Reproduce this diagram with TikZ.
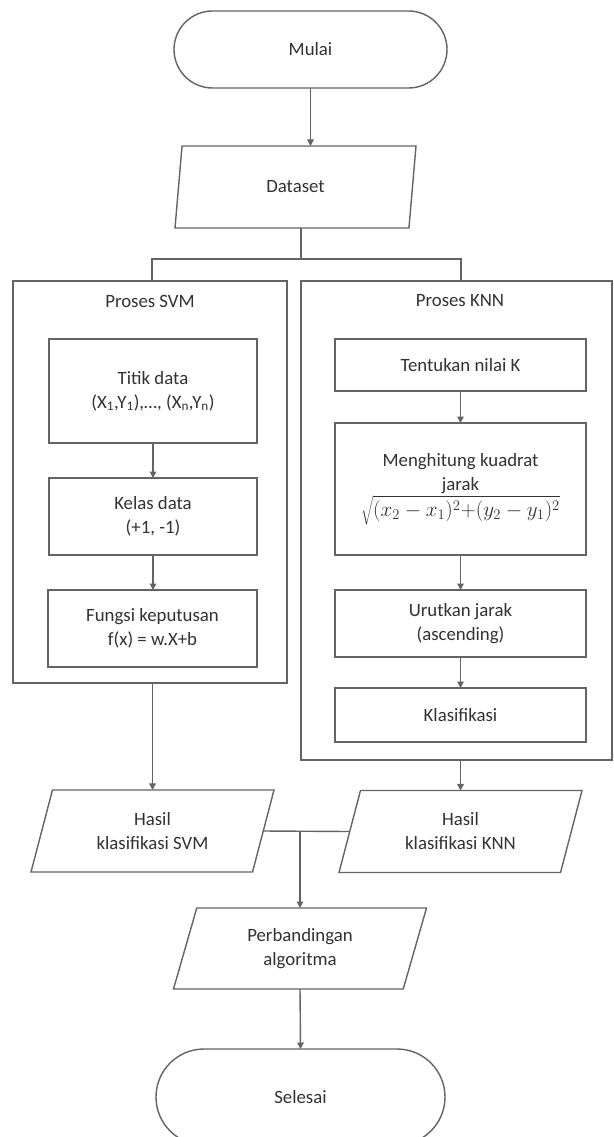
\documentclass[tikz,border=0pt]{standalone}
\usepackage{fontspec}
\setmainfont{Carlito}
\usetikzlibrary{shapes.geometric,shapes.misc,arrows.meta}
\definecolor{linec}{RGB}{100,100,100}
\definecolor{textc}{RGB}{50,50,50}
\begin{document}
\begin{tikzpicture}[x=1pt,y=-1pt,
  every node/.style={font=\fontsize{18.8}{24}\selectfont, text=textc, outer sep=0pt, inner sep=0pt},
  conn/.style={draw=linec, line width=1.4pt},
  arrowc/.style={conn, -{Triangle[width=6.5pt,length=6.5pt]}},
  termbox/.style={rounded rectangle, draw=linec, line width=1.4pt},
  iobox/.style={trapezium, trapezium left angle=60, trapezium right angle=120,
    trapezium stretches body, draw=linec, line width=1.4pt, minimum height=82, align=center},
  procbox/.style={rectangle, draw=linec, line width=1.4pt, align=center},
  groupbox/.style={rectangle, draw=linec, line width=1.4pt}
]
\useasboundingbox (0,0) rectangle (613,1137);
\fill[white] (0,0) rectangle (613,1137);

% terminators and inputs
\node[termbox, minimum width=273, minimum height=77] (mulai) at (310.5,49.5) {Mulai};
\node[iobox, minimum width=241] (dataset) at (295.5,187) {Dataset};

% group boxes
\node[groupbox, minimum width=274, minimum height=402] (svm) at (150,482) {};
\node[groupbox, minimum width=311, minimum height=479] (knn) at (456.5,520.5) {};
\node (svmlbl) at (150,301) {Proses SVM};
\node (knnlbl) at (460,301) {Proses KNN};

% SVM steps
\node[procbox, minimum width=208, minimum height=104] (titik) at (153,391)
  {Titik data\\(X\textsubscript{1},Y\textsubscript{1}),…, (X\textsubscript{n},Y\textsubscript{n})};
\node[procbox, minimum width=208, minimum height=77] (kelas) at (153,516.5) {Kelas data\\(+1, -1)};
\node[procbox, minimum width=209, minimum height=77] (fungsi) at (152.5,628.5) {Fungsi keputusan\\f(x) = w.X+b};

% KNN steps
\node[procbox, minimum width=251, minimum height=52] (tentukan) at (460.5,365) {Tentukan nilai K};
\node[procbox, minimum width=251, minimum height=132] (hitung) at (460.5,489)
  {Menghitung kuadrat\\jarak\\[1pt]\resizebox{199pt}{!}{$\sqrt{(x_2-x_1)^2{+}(y_2-y_1)^2}$}};
\node[procbox, minimum width=251, minimum height=67] (urut) at (460.5,623.5) {Urutkan jarak\\(ascending)};
\node[procbox, minimum width=251, minimum height=54] (klas) at (460.5,715) {Klasifikasi};

% results
\node[iobox, minimum width=243] (hsvm) at (152.5,831) {Hasil\\klasifikasi SVM};
\node[iobox, minimum width=243] (hknn) at (460.5,831.5) {Hasil\\klasifikasi KNN};
\node[iobox, minimum width=253, minimum height=81] (perb) at (300,948.5) {Perbandingan\\algoritma};
\node[termbox, minimum width=289, minimum height=96] (selesai) at (300.5,1097) {Selesai};

% connectors
\coordinate (split) at (301,259);
\coordinate (sL) at (152,259);
\coordinate (sR) at (461,259);
\draw[arrowc] (mulai.south) -- (mulai.south |- dataset.north);
\draw[conn] (split |- dataset.south) -- (split);
\draw[conn] (sL |- svm.north) -- (sL) -- (sR) -- (sR |- knn.north);

\draw[arrowc] (titik.south) -- (kelas.north);
\draw[arrowc] (kelas.south) -- (kelas.south |- fungsi.north);

\draw[arrowc] (tentukan.south) -- (hitung.north);
\draw[arrowc] (hitung.south) -- (urut.north);
\draw[arrowc] (urut.south) -- (klas.north);

\draw[arrowc] (hsvm.north |- svm.south) -- (hsvm.north);
\draw[arrowc] (hknn.north |- knn.south) -- (hknn.north);
\draw[conn] (hsvm.east) -- (hknn.west);
\coordinate (merge) at (perb.north |- hsvm.east);
\draw[arrowc] (merge) -- (perb.north);
\draw[arrowc] (perb.south) -- (selesai.north);
\end{tikzpicture}
\end{document}
